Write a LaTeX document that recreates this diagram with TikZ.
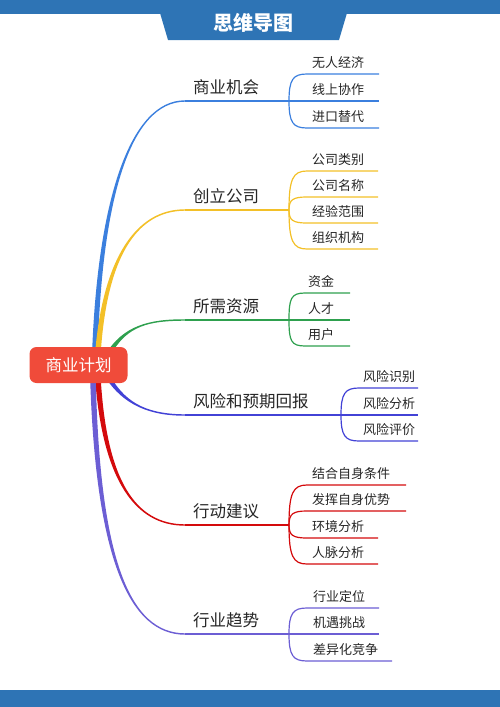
\documentclass[tikz,border=0pt]{standalone}
\usepackage{fontspec}
\setmainfont{Noto Sans CJK SC}
\usepackage{xcolor}
\usetikzlibrary{calc,backgrounds}

\definecolor{bandblue}{RGB}{46,116,181}
\definecolor{rootred}{RGB}{240,75,58}
\definecolor{cBlue}{RGB}{59,127,222}
\definecolor{cYellow}{RGB}{243,192,40}
\definecolor{cGreen}{RGB}{46,160,78}
\definecolor{cIndigo}{RGB}{66,66,214}
\definecolor{cRed}{RGB}{212,10,12}
\definecolor{cPurple}{RGB}{108,94,212}

% tapered limb: colour, start, control 1, control 2, end, side (-1 up, 1 down)
\newcommand{\limb}[6]{%
  \fill[#1] ($(#2)+(-2.8,0)$) .. controls ($(#3)+(-2,0)$) and ($(#4)+(0,0.9*#6)$)
    .. ($(#5)+(0,0.7*#6)$) -- ($(#5)+(0,-0.7*#6)$)
    .. controls ($(#4)+(0,-0.9*#6)$) and ($(#3)+(2,0)$) .. ($(#2)+(2.8,0)$) -- cycle;}

\begin{document}
\begin{tikzpicture}[x=1pt,y=-1pt,
  rootbox/.style={fill=rootred,rounded corners=7pt,minimum width=98pt,
    minimum height=36pt,text=white,font=\fontsize{16.5}{18}\selectfont},
  topic/.style={anchor=base west,inner sep=0pt,text=black!85,
    font=\fontsize{16.5}{18}\selectfont},
  leaf/.style={anchor=base west,inner sep=0pt,text=black!85,
    font=\fontsize{13}{15}\selectfont},
  trunk/.style={line width=1.4pt},
  twig/.style={line width=1.2pt}]
  \useasboundingbox (0,0) rectangle (500,707);

  % bands
  \fill[bandblue] (0,0) rectangle (500,14);
  \fill[bandblue] (160,13) -- (347,13) -- (339,40) -- (168,40) -- cycle;
  \fill[bandblue] (0,690) rectangle (500,707);
  \node[text=white,font=\fontsize{20}{22}\selectfont\bfseries] (title) at (253,23) {思维导图};

  \node[rootbox] (plan) at (78.5,365) {商业计划};

  \coordinate (r1) at ($(plan.center)+(16.5,-15)$);
  \coordinate (r2) at ($(plan.center)+(19.5,-13)$);
  \coordinate (r3) at ($(plan.center)+(29.5,-10)$);
  \coordinate (r4) at ($(plan.center)+(29.5,12)$);
  \coordinate (r5) at ($(plan.center)+(19.5,15)$);
  \coordinate (r6) at ($(plan.center)+(14.5,15)$);

  \coordinate (b1) at (185,101);
  \coordinate (b2) at (185,210);
  \coordinate (b3) at (185,320);
  \coordinate (b4) at (185,415);
  \coordinate (b5) at (185,525);
  \coordinate (b6) at (185,634);

  \coordinate (k1) at (289,101);
  \coordinate (k2) at (289,210);
  \coordinate (k3) at (289,320);
  \coordinate (k4) at (341,415);
  \coordinate (k5) at (289,525);
  \coordinate (k6) at (289,634);

  \begin{scope}[on background layer]
    \limb{cBlue}{r1}{100,200}{130,101}{b1}{-1}
    \limb{cYellow}{r2}{105,260}{135,210}{b2}{-1}
    \limb{cGreen}{r3}{125,325}{150,320}{b3}{-1}
    \limb{cIndigo}{r4}{125,405}{150,415}{b4}{1}
    \limb{cRed}{r5}{105,480}{135,525}{b5}{1}
    \limb{cPurple}{r6}{98,560}{130,634}{b6}{1}
  \end{scope}

  % topics
  \draw[trunk,cBlue] (b1) -- (k1);
  \node[topic] (t1) at (193,93) {商业机会};
  \draw[trunk,cYellow] (b2) -- (k2);
  \node[topic] (t2) at (193,202) {创立公司};
  \draw[trunk,cGreen] (b3) -- (k3);
  \node[topic] (t3) at (193,312) {所需资源};
  \draw[trunk,cIndigo] (b4) -- (k4);
  \node[topic] (t4) at (193,407) {风险和预期回报};
  \draw[trunk,cRed] (b5) -- (k5);
  \node[topic] (t5) at (193,517) {行动建议};
  \draw[trunk,cPurple] (b6) -- (k6);
  \node[topic] (t6) at (193,626) {行业趋势};

  % leaves
  \foreach \j/\ly/\ex/\w in {1/74/379/无人经济, 2/101/379/线上协作, 3/128/379/进口替代} {
    \coordinate (s1-\j) at (307,\ly);
    \coordinate (e1-\j) at (\ex,\ly);
    \draw[twig,cBlue] (k1) .. controls ($(k1)!0.8!(k1|-s1-\j)$) and ($(s1-\j)+(-14,0)$) .. (s1-\j) -- (e1-\j);
    \node[leaf] (w1-\j) at ($(s1-\j)+(5,-6.5)$) {\w};
  }
  \foreach \j/\ly/\ex/\w in {1/171/378/公司类别, 2/197/378/公司名称, 3/223/378/经验范围, 4/249/378/组织机构} {
    \coordinate (s2-\j) at (307,\ly);
    \coordinate (e2-\j) at (\ex,\ly);
    \draw[twig,cYellow] (k2) .. controls ($(k2)!0.8!(k2|-s2-\j)$) and ($(s2-\j)+(-14,0)$) .. (s2-\j) -- (e2-\j);
    \node[leaf] (w2-\j) at ($(s2-\j)+(5,-6.5)$) {\w};
  }
  \foreach \j/\ly/\ex/\w in {1/293/350/资金, 2/320/350/人才, 3/346/350/用户} {
    \coordinate (s3-\j) at (305,\ly);
    \coordinate (e3-\j) at (\ex,\ly);
    \draw[twig,cGreen] (k3) .. controls ($(k3)!0.8!(k3|-s3-\j)$) and ($(s3-\j)+(-14,0)$) .. (s3-\j) -- (e3-\j);
    \node[leaf] (w3-\j) at ($(s3-\j)+(3,-6.5)$) {\w};
  }
  \foreach \j/\ly/\ex/\w in {1/388/418/风险识别, 2/415/418/风险分析, 3/441/418/风险评价} {
    \coordinate (s4-\j) at (359,\ly);
    \coordinate (e4-\j) at (\ex,\ly);
    \draw[twig,cIndigo] (k4) .. controls ($(k4)!0.8!(k4|-s4-\j)$) and ($(s4-\j)+(-14,0)$) .. (s4-\j) -- (e4-\j);
    \node[leaf] (w4-\j) at ($(s4-\j)+(4,-6.5)$) {\w};
  }
  \foreach \j/\ly/\ex/\w in {1/485/406/结合自身条件, 2/511/406/发挥自身优势, 3/538/378/环境分析, 4/564/378/人脉分析} {
    \coordinate (s5-\j) at (307,\ly);
    \coordinate (e5-\j) at (\ex,\ly);
    \draw[twig,cRed] (k5) .. controls ($(k5)!0.8!(k5|-s5-\j)$) and ($(s5-\j)+(-14,0)$) .. (s5-\j) -- (e5-\j);
    \node[leaf] (w5-\j) at ($(s5-\j)+(5,-6.5)$) {\w};
  }
  \foreach \j/\ly/\ex/\w in {1/608/379/行业定位, 2/634/379/机遇挑战, 3/661/392/差异化竞争} {
    \coordinate (s6-\j) at (307,\ly);
    \coordinate (e6-\j) at (\ex,\ly);
    \draw[twig,cPurple] (k6) .. controls ($(k6)!0.8!(k6|-s6-\j)$) and ($(s6-\j)+(-14,0)$) .. (s6-\j) -- (e6-\j);
    \node[leaf] (w6-\j) at ($(s6-\j)+(6,-6.5)$) {\w};
  }
\end{tikzpicture}
\end{document}
